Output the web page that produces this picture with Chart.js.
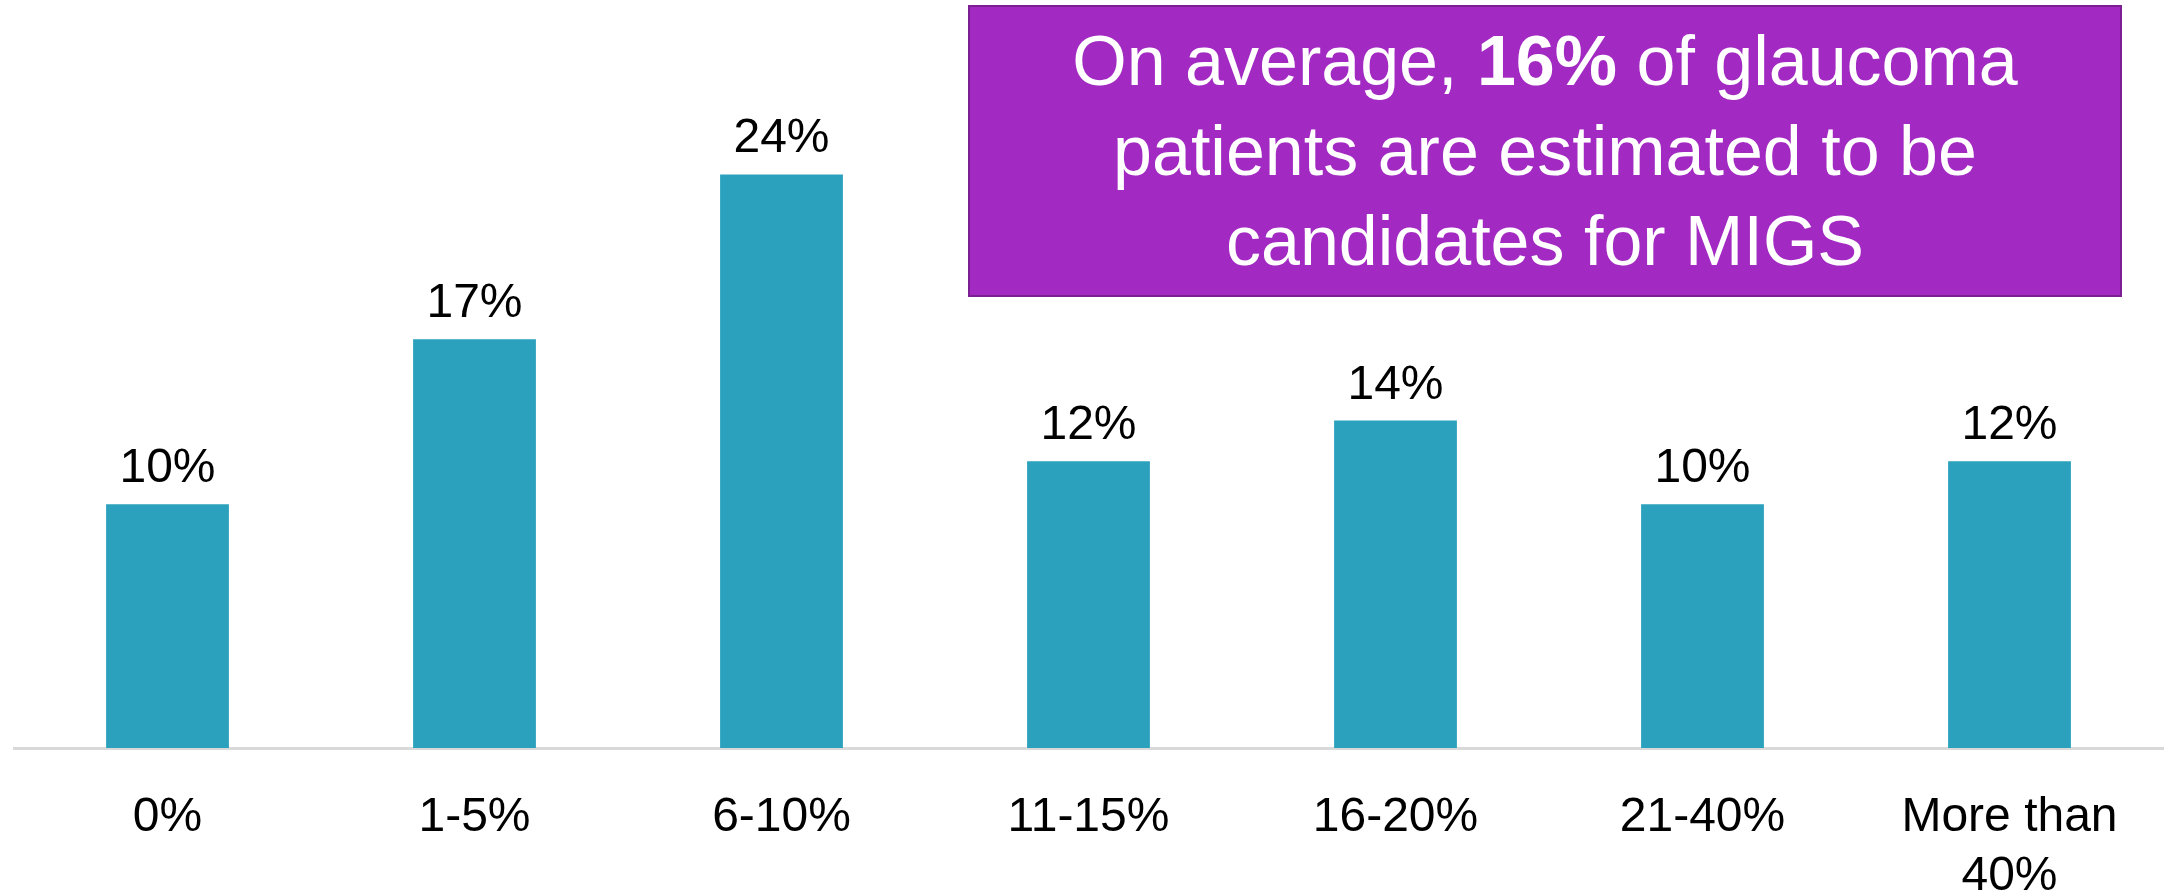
<!DOCTYPE html>
<html>
<head>
<meta charset="utf-8">
<script src="https://cdn.jsdelivr.net/npm/chart.js@4"></script>
<style>
  body { margin: 0; background: #fff; }
  #wrap { position: relative; width: 2165px; height: 893px; }
  #callout {
    position: absolute; left: 968px; top: 5px; width: 1150px; height: 288px;
    background: #a229c1; border: 2px solid #7b1f93;
    color: #fff; font-family: "Liberation Sans", Arial, sans-serif;
    font-size: 70px; line-height: 90px; text-align: center;
    display: flex; align-items: center; justify-content: center;
  }
</style>
</head>
<body>
<div id="wrap">
  <canvas id="chart"></canvas>
  <div id="callout"><div>On average, <b>16%</b> of glaucoma<br>patients are estimated to be<br>candidates for MIGS</div></div>
</div>
<script>
// share of glaucoma patients who are MIGS candidates (responses)
const categories = ['0%', '1-5%', '6-10%', '11-15%', '16-20%', '21-40%', ['More than', '40%']];
const values = [10.2, 17.1, 24.0, 12.0, 13.7, 10.2, 12.0];

const FONT = '"Liberation Sans", Arial, sans-serif';

// value labels above each bar
const barLabels = {
  id: 'barLabels',
  afterDatasetsDraw(chart) {
    const ctx = chart.ctx;
    const meta = chart.getDatasetMeta(0);
    ctx.save();
    ctx.font = '48px ' + FONT;
    ctx.fillStyle = '#000';
    ctx.textAlign = 'center';
    ctx.textBaseline = 'alphabetic';
    meta.data.forEach((bar, i) => {
      ctx.fillText(Math.round(values[i]) + '%', bar.x, bar.y - 22);
    });
    ctx.restore();
  }
};

new Chart(document.getElementById('chart'), {
  type: 'bar',
  data: {
    labels: categories,
    datasets: [{
      data: values,
      backgroundColor: '#2ba1bd',
      barPercentage: 0.4,
      categoryPercentage: 1.0
    }]
  },
  options: {
    responsive: true,
    maintainAspectRatio: false,
    animation: false,
    layout: { padding: { left: 14, right: 2, top: 0, bottom: 0 } },
    plugins: { legend: { display: false }, tooltip: { enabled: false } },
    scales: {
      y: { display: false, min: 0, max: 31.3 },
      x: {
        grid: { display: false, drawTicks: false },
        border: { display: true, color: '#d9d9d9', width: 3 },
        ticks: {
          color: '#000',
          font: { size: 48, family: FONT, lineHeight: 1.23 },
          padding: 40,
          maxRotation: 0,
          autoSkip: false
        },
        afterFit(scale) { scale.height = 145; }
      }
    }
  },
  plugins: [barLabels]
});
</script>
</body>
</html>
